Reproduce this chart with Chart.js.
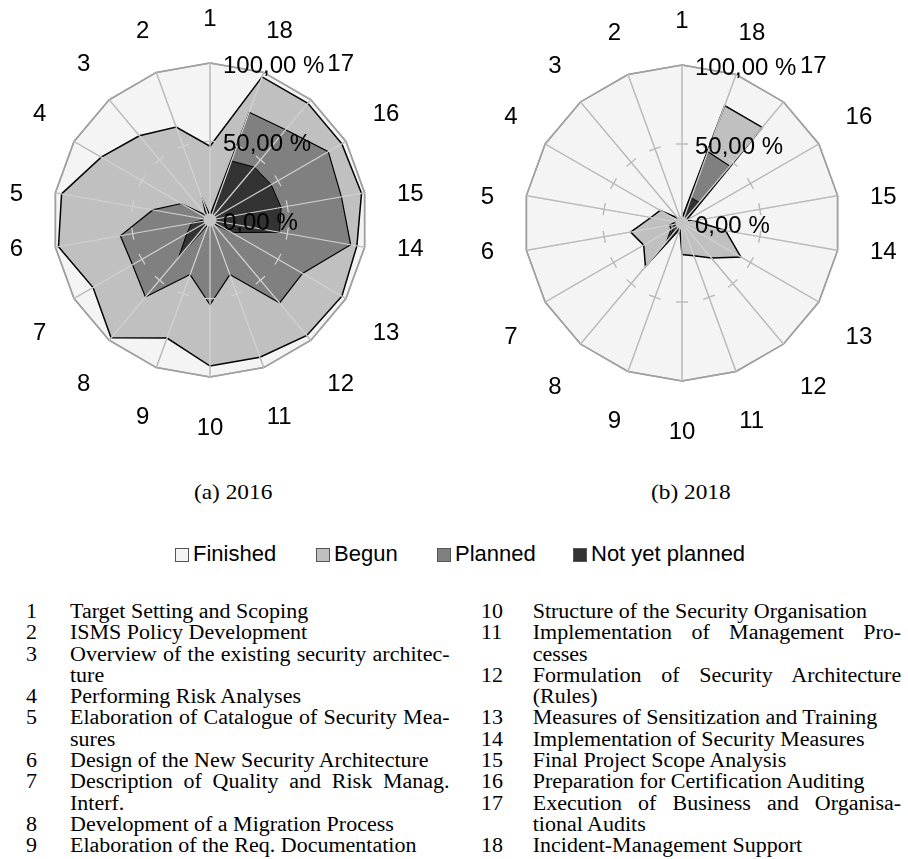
<!DOCTYPE html>
<html>
<head>
<meta charset="utf-8">
<script src="https://cdn.jsdelivr.net/npm/chart.js@4.4.0/dist/chart.umd.min.js"></script>
<style>
  html, body { margin: 0; padding: 0; background: #fff; }
  #page { position: relative; width: 908px; height: 859px; overflow: hidden; }
  .radar { position: absolute; height: 440px; }
  #box2016 { left: 0; top: 0; width: 440px; }
  #box2018 { left: 472px; top: 3px; width: 436px; }
  .caption { position: absolute; top: 480px; font-family: "Liberation Serif", serif; font-size: 21px;
             transform: scaleX(1.11); transform-origin: left top; }
  #legend { position: absolute; top: 541px; left: 0; width: 908px; height: 28px;
            font-family: "Liberation Sans", Arial, sans-serif; font-size: 22px; }
  #legend span { position: absolute; top: 0; white-space: nowrap; }
  #legend i { position: absolute; top: 7px; width: 12px; height: 12px; border: 1px solid #555; }
  .col { position: absolute; top: 601px; font-family: "Liberation Serif", serif; font-size: 20px; line-height: 21.3px;
         transform: scaleX(1.1); transform-origin: left top; }
  .row { display: flex; }
  .num { flex: none; }
  .txt { flex: none; white-space: nowrap; }
  .just { text-align: justify; text-align-last: justify; }
</style>
</head>
<body>
<div id="page">
  <div class="radar" id="box2016"><canvas id="radar2016"></canvas></div>
  <div class="radar" id="box2018"><canvas id="radar2018"></canvas></div>
  <div class="caption" style="left:194px">(a) 2016</div>
  <div class="caption" style="left:651px">(b) 2018</div>
  <div id="legend"></div>
  <div class="col" id="colLeft" style="left:26px"></div>
  <div class="col" id="colRight" style="left:481px"></div>
</div>
<script>
// axis categories, numbered as in the picture (1 at the top, going counter-clockwise)
const categories = ['1', '2', '3', '4', '5', '6', '7', '8', '9', '10', '11', '12', '13', '14', '15', '16', '17', '18'];

// stacked radar: each array is the cumulative level (in %) reached by that status
// 2016
const notYetPlanned2016 = [2, 5, 2, 2, 3, 12, 17, 31, 3, 2, 2, 3, 16, 45, 46, 45, 44, 40];
const planned2016       = [3, 14, 4, 21, 37, 58, 57, 64, 37, 54, 37, 69, 68, 91, 85, 87, 75, 73];
const begun2016         = [47, 63, 70, 80, 96, 98, 86, 98, 80, 93, 93, 96, 97, 95, 98, 97, 97, 97];
const finished2016      = [100, 100, 100, 100, 100, 100, 100, 100, 100, 100, 100, 100, 100, 100, 100, 100, 100, 100];
// 2018
const notYetPlanned2018 = [1, 1, 1, 1, 1, 5, 6, 13, 1, 1, 1, 1, 1, 1, 1, 1, 17, 17];
const planned2018       = [2, 2, 2, 3, 4, 8, 8, 15, 2, 2, 2, 2, 2, 2, 2, 2, 47, 48];
const begun2018         = [3, 3, 4, 16, 20, 33, 28, 36, 4, 20, 22, 29, 43, 28, 8, 3, 79, 79];
const finished2018      = [100, 100, 100, 100, 100, 100, 100, 100, 100, 100, 100, 100, 100, 100, 100, 100, 100, 100];

const tickValues = [0, 50, 100];
const tickLabels = ['0,00 %', '50,00 %', '100,00 %'];

const statusNames  = ['Finished', 'Begun', 'Planned', 'Not yet planned'];
const statusColors = ['#f4f4f4', '#c0c0c0', '#808080', '#333333'];

const phaseNamesLeft = [
  ['1', ['Target Setting and Scoping']],
  ['2', ['ISMS Policy Development']],
  ['3', ['Overview of the existing security architec-', 'ture']],
  ['4', ['Performing Risk Analyses']],
  ['5', ['Elaboration of Catalogue of Security Mea-', 'sures']],
  ['6', ['Design of the New Security Architecture']],
  ['7', ['Description of Quality and Risk Manag.', 'Interf.']],
  ['8', ['Development of a Migration Process']],
  ['9', ['Elaboration of the Req. Documentation']]
];
const phaseNamesRight = [
  ['10', ['Structure of the Security Organisation']],
  ['11', ['Implementation of Management Pro-', 'cesses']],
  ['12', ['Formulation of Security Architecture', '(Rules)']],
  ['13', ['Measures of Sensitization and Training']],
  ['14', ['Implementation of Security Measures']],
  ['15', ['Final Project Scope Analysis']],
  ['16', ['Preparation for Certification Auditing']],
  ['17', ['Execution of Business and Organisa-', 'tional Audits']],
  ['18', ['Incident-Management Support']]
];

// Chart.js walks the spokes clockwise, the picture counter-clockwise: 1, 18, 17, ... 2
const clockwise = arr => [arr[0], ...arr.slice(1).reverse()];

const labelFont = '24px "Liberation Sans", Arial, sans-serif';

function drawCrossMarks(chart, color) {
  const r = chart.scales.r;
  const ctx = chart.ctx;
  ctx.strokeStyle = color;
  ctx.lineWidth = 1.2;
  for (let i = 0; i < chart.data.labels.length; i++) {
    const p = r.getPointPositionForValue(i, 50);
    const px = -Math.sin(p.angle) * 6, py = Math.cos(p.angle) * 6;
    ctx.beginPath();
    ctx.moveTo(p.x - px, p.y - py);
    ctx.lineTo(p.x + px, p.y + py);
    ctx.stroke();
  }
}

// spoke numbers, 50 % cross marks, centre blob and the value labels right of the top spoke
const radarExtras = {
  id: 'radarExtras',
  afterDraw(chart) {
    const r = chart.scales.r;
    const ctx = chart.ctx;
    const n = chart.data.labels.length;
    ctx.save();

    // light marks over the filled areas
    drawCrossMarks(chart, '#d2d2d2');

    // darker spokes + marks where only the "Finished" ring shows
    const ring = chart.getDatasetMeta(3).data;
    const begun = chart.getDatasetMeta(2).data;
    ctx.save();
    ctx.beginPath();
    ring.forEach((pt, i) => (i ? ctx.lineTo(pt.x, pt.y) : ctx.moveTo(pt.x, pt.y)));
    ctx.closePath();
    begun.forEach((pt, i) => (i ? ctx.lineTo(pt.x, pt.y) : ctx.moveTo(pt.x, pt.y)));
    ctx.closePath();
    ctx.clip('evenodd');
    ctx.strokeStyle = '#b8b8b8';
    ctx.lineWidth = 1.2;
    ring.forEach(pt => {
      ctx.beginPath();
      ctx.moveTo(r.xCenter, r.yCenter);
      ctx.lineTo(pt.x, pt.y);
      ctx.stroke();
    });
    drawCrossMarks(chart, '#b8b8b8');
    ctx.restore();

    ctx.fillStyle = '#c4c4c4';
    ctx.beginPath();
    ctx.arc(r.xCenter, r.yCenter, 6.5, 0, Math.PI * 2);
    ctx.fill();

    ctx.fillStyle = '#000';
    ctx.font = labelFont;
    ctx.textAlign = 'center';
    ctx.textBaseline = 'middle';

    // spoke numbers, about 33 px outside the 100 % ring
    const dist = r.drawingArea + 33;
    for (let i = 0; i < n; i++) {
      const p = r.getPointPosition(i, dist);
      const sx = (p.x - r.xCenter) / dist, cy = (r.yCenter - p.y) / dist;
      const w = ctx.measureText(chart.data.labels[i]).width;
      const x = r.xCenter + sx * (dist + w / 2);
      let y;
      if (Math.abs(cy) < 0.3) y = r.yCenter - Math.sign(cy) * 27.5;
      else y = r.yCenter + 2 - cy * dist - Math.sign(cy) * 14.5;
      ctx.fillText(chart.data.labels[i], x, y + 2);
    }

    ctx.textAlign = 'left';
    tickValues.forEach((v, k) => {
      ctx.fillText(tickLabels[k], r.xCenter + 13, r.yCenter - r.getDistanceFromCenterForValue(v) + 3);
    });
    ctx.restore();
  }
};

function buildRadar(canvasId, levels, pad) {
  const series = [
    { label: 'Not yet planned', data: levels[3], backgroundColor: statusColors[3], borderColor: '#000', borderWidth: 1 },
    { label: 'Planned', data: levels[2], backgroundColor: statusColors[2], borderColor: '#000', borderWidth: 1.2 },
    { label: 'Begun', data: levels[1], backgroundColor: statusColors[1], borderColor: '#000', borderWidth: 1.5 },
    { label: 'Finished', data: levels[0], backgroundColor: statusColors[0], borderColor: '#a0a0a0', borderWidth: 1.5 }
  ];
  return new Chart(document.getElementById(canvasId), {
    type: 'radar',
    data: {
      labels: clockwise(categories),
      datasets: series.map(s => ({ ...s, data: clockwise(s.data), fill: 'origin', pointRadius: 0, tension: 0, clip: false }))
    },
    options: {
      responsive: true,
      maintainAspectRatio: false,
      animation: false,
      layout: { padding: pad },
      plugins: { legend: { display: false }, tooltip: { enabled: false } },
      scales: {
        r: {
          min: 0,
          max: 100,
          ticks: { display: false, stepSize: 50 },
          grid: {
            z: 1,
            lineWidth: 1.5,
            color: c => (c.tick && c.tick.value === 100) ? '#a0a0a0' : 'rgba(0,0,0,0)'
          },
          angleLines: { color: '#d2d2d2', lineWidth: 1.2 },
          pointLabels: { display: false }
        }
      }
    },
    plugins: [radarExtras]
  });
}

buildRadar('radar2016', [finished2016, begun2016, planned2016, notYetPlanned2016],
           { left: 53, right: 73, top: 63, bottom: 63 });
buildRadar('radar2018', [finished2018, begun2018, planned2018, notYetPlanned2018],
           { left: 52, right: 68, top: 62, bottom: 62 });

// shared legend
const legendStarts = [175, 316, 437, 573];
const legend = document.getElementById('legend');
statusNames.forEach((name, i) => {
  const span = document.createElement('span');
  span.style.left = legendStarts[i] + 'px';
  span.style.paddingLeft = '18px';
  span.innerHTML = `<i style="left:0;background:${statusColors[i]}"></i>${name}`;
  legend.appendChild(span);
});

// phase list below the charts (widths are before the 1.1 horizontal stretch)
function fillColumn(el, items, numWidth, width) {
  items.forEach(([num, lines]) => {
    const row = document.createElement('div');
    row.className = 'row';
    const n = document.createElement('div');
    n.className = 'num';
    n.style.width = numWidth + 'px';
    n.textContent = num;
    const t = document.createElement('div');
    t.className = 'txt';
    t.style.width = width + 'px';
    lines.forEach((line, k) => {
      const d = document.createElement('div');
      if (k < lines.length - 1) d.className = 'just';
      d.textContent = line;
      t.appendChild(d);
    });
    row.appendChild(n);
    row.appendChild(t);
    el.appendChild(row);
  });
}
fillColumn(document.getElementById('colLeft'), phaseNamesLeft, 40, 345);
fillColumn(document.getElementById('colRight'), phaseNamesRight, 47, 335);
</script>
</body>
</html>
